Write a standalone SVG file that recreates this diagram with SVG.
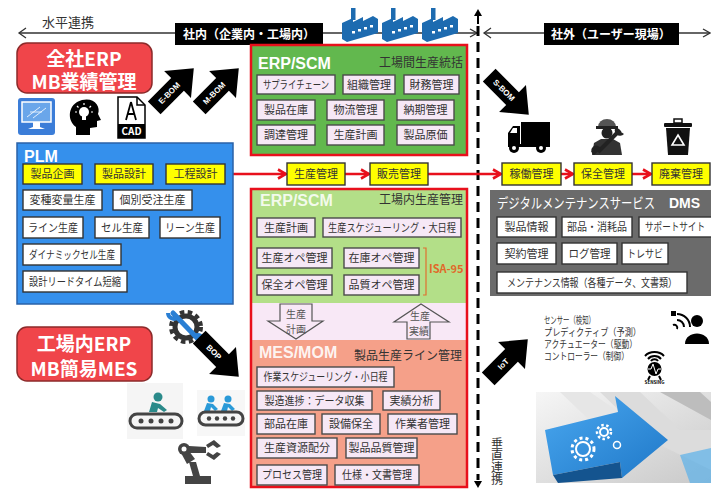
<svg xmlns="http://www.w3.org/2000/svg" width="711" height="490" viewBox="0 0 711 490">
<defs>
<style>
text{font-family:"Noto Sans CJK JP","Noto Sans",sans-serif;}
.t{font-size:11px;fill:#333;text-anchor:middle;}
.c{fill:#f6e8f6;stroke:#4a4a4a;stroke-width:1.4;}
.w{fill:#fff;stroke:#333;stroke-width:1.4;}
.y{fill:#ffff00;stroke:#333;stroke-width:1.4;}
.h{font-family:"Liberation Sans",Arial,sans-serif;font-weight:bold;font-size:16px;fill:#fff;}
.sub{font-size:12px;fill:#333;text-anchor:end;}
.flow{stroke:#e8101c;stroke-width:2.5;fill:none;marker-end:url(#ra);}
.bt{font-family:"Liberation Sans",Arial,sans-serif;font-weight:bold;font-size:8px;fill:#fff;text-anchor:middle;}
.lbl{font-size:12px;font-weight:bold;fill:#fff;text-anchor:middle;}
.rb{fill:#f0454a;stroke:#8c2a2a;stroke-width:1.5;}
.rbt{font-size:19px;font-weight:bold;fill:#fff;text-anchor:middle;}
.sn{font-size:10px;fill:#333;}
.line{stroke:#333;stroke-width:1.3;fill:none;}
</style>
<marker id="ra" viewBox="0 0 12 12" markerWidth="12" markerHeight="12" markerUnits="userSpaceOnUse" refX="10" refY="6" orient="auto">
<path d="M2,1.5 L10,6 L2,10.5" fill="none" stroke="#e8101c" stroke-width="2.6"/>
</marker>
<marker id="ch" viewBox="0 0 10 10" markerWidth="10" markerHeight="10" markerUnits="userSpaceOnUse" refX="9" refY="5" orient="auto">
<path d="M2,1 L9,5 L2,9" fill="none" stroke="#333" stroke-width="1.3"/>
</marker>
<path id="blk" d="M-28,-9 L5,-9 L5,-19 L28,0 L5,19 L5,9 L-28,9 Z" fill="#000"/>
<g id="factory" fill="#1d6bb0">
<rect x="9" y="0" width="4.5" height="12"/>
<path d="M0,15 L11,10 L11,14 L21,9 L21,13 L31,8 L36,11 L36,25 L5,34 L0,31 Z"/>
<g fill="#fff"><rect x="10" y="23" width="3" height="2.5"/><rect x="16" y="21" width="3" height="2.5"/><rect x="22" y="19" width="3" height="2.5"/><rect x="28" y="17" width="3" height="2.5"/></g>
</g>
<linearGradient id="bg" x1="0" y1="0" x2="1" y2="1"><stop offset="0" stop-color="#f6f6f6"/><stop offset="1" stop-color="#c9c9c9"/></linearGradient>
<linearGradient id="bl" x1="0" y1="0" x2="1" y2="1"><stop offset="0" stop-color="#4aa8f0"/><stop offset="1" stop-color="#1f78c8"/></linearGradient>
</defs>

<rect width="711" height="490" fill="#fff"/>

<!-- connectors: cooperation axes and flows -->
<g id="connectors">
<line x1="19" y1="33" x2="477" y2="33" class="line" marker-end="url(#ch)"/>
<path d="M26,28 L19,33 L26,38" class="line"/>
<line x1="484" y1="33" x2="710" y2="33" class="line" marker-end="url(#ch)"/>
<path d="M491,28 L484,33 L491,38" class="line"/>
<line x1="478" y1="26" x2="478" y2="480" stroke="#000" stroke-width="3" stroke-dasharray="10,6"/>
<path d="M478,24 L478,12" stroke="#000" stroke-width="2"/>
<path d="M474,16 L478,9 L482,16 Z" fill="#000"/>
<path d="M474,481 L478,488 L482,481 Z" fill="#000"/>
<line x1="82" y1="174" x2="94" y2="174" class="flow"/>
<line x1="153" y1="174" x2="165" y2="174" class="flow"/>
<line x1="225" y1="174" x2="286" y2="174" class="flow"/>
<line x1="345" y1="174" x2="369" y2="174" class="flow"/>
<line x1="428" y1="174" x2="501" y2="174" class="flow"/>
<line x1="561" y1="174" x2="573" y2="174" class="flow"/>
<line x1="632" y1="174" x2="651" y2="174" class="flow"/>
<line x1="372" y1="400" x2="383" y2="400" stroke="#fff" stroke-width="1.5"/>
</g>

<text x="42" y="27" font-size="13" fill="#333">水平連携</text>
<g id="label-inside"><rect x="175" y="23" width="148" height="22" fill="#000"/><text class="lbl" x="249" y="39">社内（企業内・工場内）</text></g>
<g id="label-outside"><rect x="544" y="23" width="135" height="22" fill="#000"/><text class="lbl" x="611" y="39">社外（ユーザー現場）</text></g>
<g id="factories">
<use href="#factory" x="342" y="8"/>
<use href="#factory" x="382" y="8"/>
<use href="#factory" x="422" y="8"/>
</g>
<g id="vertical-label"><text x="497" y="437" font-size="12" fill="#333" writing-mode="vertical-rl">垂直連携</text></g>

<!-- company ERP -->
<g id="company-erp">
<rect class="rb" x="17" y="43" width="135" height="50" rx="10"/>
<text class="rbt" x="84" y="66">全社ERP</text>
<text class="rbt" x="84" y="89">MB業績管理</text>
</g>

<!-- design icons -->
<g id="icon-monitor">
<rect x="18" y="98" width="37" height="37" rx="3" fill="#3b7dd8"/>
<rect x="22" y="102" width="29" height="20" fill="#6aa6ea" stroke="#fff" stroke-width="1.5"/>
<path d="M27,117 L40,107 M33,118 L46,108 M30,112 L42,112" stroke="#fff" stroke-width="0.8"/>
<path d="M33,122 L40,122 L40,127 L45,129 L28,129 L33,127 Z" fill="#fff"/>
</g>
<g id="icon-head">
<path d="M76,135 L76,127 C67,121 67,104 82,100 C94,97 101,106 98,114 L101,120 L97,121 L97,127 L90,128 L90,135 Z" fill="#000"/>
<circle cx="84" cy="112" r="5" fill="#fff"/>
<rect x="82" y="116" width="4" height="4" fill="#fff"/>
<path d="M84,103 L84,105 M77,106 L78.5,107.5 M91,106 L89.5,107.5 M75,112 L77,112 M93,112 L91,112" stroke="#fff" stroke-width="1.2"/>
</g>
<g id="icon-cad">
<path d="M118,97 L137,97 L145,105 L145,138 L118,138 Z" fill="#fff" stroke="#000" stroke-width="1.5"/>
<path d="M137,97 L137,105 L145,105" fill="none" stroke="#000" stroke-width="1.5"/>
<path d="M131,102 L126,120 M131,102 L136,120 M127,114 L135,114" stroke="#000" stroke-width="1.8" fill="none"/>
<rect x="118" y="124" width="27" height="14" fill="#000"/>
<text x="131.5" y="135" font-family="Liberation Sans,Arial,sans-serif" font-weight="bold" font-size="10" fill="#fff" text-anchor="middle">CAD</text>
</g>

<g id="arrow-ebom" transform="translate(174,88) rotate(-45)"><use href="#blk"/><text class="bt" x="-7" y="3">E-BOM</text></g>
<g id="arrow-mbom" transform="translate(219,88) rotate(-45)"><use href="#blk"/><text class="bt" x="-7" y="3">M-BOM</text></g>

<!-- ERP / SCM inter-factory -->
<g id="erp-scm-top">
<rect x="251" y="45" width="216" height="110" fill="#62b84e" stroke="#e8101c" stroke-width="2.5"/>
<text class="h" x="258" y="69">ERP/SCM</text>
<text class="sub" x="463" y="67">工場間生産統括</text>
</g>
<g id="n-supply"><rect class="c" x="257" y="75" width="78" height="19"/><text class="t" x="296" y="89" textLength="66" lengthAdjust="spacingAndGlyphs">サプライチェーン</text></g>
<g id="n-org"><rect class="c" x="343" y="75" width="52" height="19"/><text class="t" x="369" y="89">組織管理</text></g>
<g id="n-fin"><rect class="c" x="404" y="75" width="55" height="19"/><text class="t" x="431.5" y="89">財務管理</text></g>
<g id="n-stock"><rect class="c" x="257" y="100" width="58" height="20"/><text class="t" x="286" y="114">製品在庫</text></g>
<g id="n-logi"><rect class="c" x="327" y="100" width="57" height="20"/><text class="t" x="355.5" y="114">物流管理</text></g>
<g id="n-due"><rect class="c" x="397" y="100" width="57" height="20"/><text class="t" x="425.5" y="114">納期管理</text></g>
<g id="n-procure"><rect class="c" x="257" y="125" width="58" height="20"/><text class="t" x="286" y="139">調達管理</text></g>
<g id="n-plan"><rect class="c" x="327" y="125" width="57" height="20"/><text class="t" x="355.5" y="139">生産計画</text></g>
<g id="n-cost"><rect class="c" x="397" y="125" width="57" height="20"/><text class="t" x="425.5" y="139">製品原価</text></g>

<!-- PLM -->
<g id="plm">
<rect x="17" y="143" width="216" height="161" fill="#3590ec" stroke="#2a62a8" stroke-width="1.5"/>
<text class="h" x="24" y="162">PLM</text>
</g>
<g id="y-plan"><rect class="y" x="23" y="164" width="59" height="20"/><text class="t" x="52.5" y="178">製品企画</text></g>
<g id="y-design"><rect class="y" x="95" y="164" width="58" height="20"/><text class="t" x="124" y="178">製品設計</text></g>
<g id="y-process"><rect class="y" x="166" y="164" width="59" height="20"/><text class="t" x="195.5" y="178">工程設計</text></g>
<g id="p1"><rect class="w" x="23" y="190" width="79" height="20"/><text class="t" x="62.5" y="204">変種変量生産</text></g>
<g id="p2"><rect class="w" x="113" y="190" width="79" height="20"/><text class="t" x="152.5" y="204">個別受注生産</text></g>
<g id="p3"><rect class="w" x="23" y="217" width="60" height="21"/><text class="t" x="53" y="232" textLength="50" lengthAdjust="spacingAndGlyphs">ライン生産</text></g>
<g id="p4"><rect class="w" x="95" y="217" width="54" height="21"/><text class="t" x="122" y="232" textLength="42" lengthAdjust="spacingAndGlyphs">セル生産</text></g>
<g id="p5"><rect class="w" x="160" y="217" width="60" height="21"/><text class="t" x="190" y="232" textLength="50" lengthAdjust="spacingAndGlyphs">リーン生産</text></g>
<g id="p6"><rect class="w" x="23" y="244" width="98" height="21"/><text class="t" x="72" y="259" textLength="86" lengthAdjust="spacingAndGlyphs">ダイナミックセル生産</text></g>
<g id="p7"><rect class="w" x="23" y="271" width="104" height="21"/><text class="t" x="75" y="286" textLength="92" lengthAdjust="spacingAndGlyphs">設計リードタイム短縮</text></g>

<!-- flow steps -->
<g id="y-prod"><rect class="y" x="287" y="163" width="58" height="22"/><text class="t" x="316" y="178">生産管理</text></g>
<g id="y-sales"><rect class="y" x="370" y="163" width="58" height="22"/><text class="t" x="399" y="178">販売管理</text></g>
<g id="y-oper"><rect class="y" x="502" y="163" width="59" height="22"/><text class="t" x="531.5" y="178">稼働管理</text></g>
<g id="y-maint"><rect class="y" x="574" y="163" width="58" height="22"/><text class="t" x="603" y="178">保全管理</text></g>
<g id="y-disp"><rect class="y" x="652" y="163" width="58" height="22"/><text class="t" x="681" y="178">廃棄管理</text></g>

<!-- factory ERP / MES -->
<g id="erp-scm-factory">
<rect x="251" y="189" width="216" height="298" fill="#f8e8f6"/>
<rect x="251" y="189" width="216" height="114" fill="#b3df88"/>
<rect x="251" y="340" width="216" height="147" fill="#f5a089"/>
<rect x="251" y="189" width="216" height="298" fill="none" stroke="#e8101c" stroke-width="2.5"/>
<text class="h" x="260" y="206" fill-opacity="0.85">ERP/SCM</text>
<text class="sub" x="463" y="204">工場内生産管理</text>
</g>
<g id="f1"><rect class="c" x="257" y="218" width="58" height="19"/><text class="t" x="286" y="232">生産計画</text></g>
<g id="f2"><rect class="c" x="323" y="218" width="138" height="19"/><text class="t" x="392" y="232" textLength="128" lengthAdjust="spacingAndGlyphs">生産スケジューリング・大日程</text></g>
<g id="f3"><rect class="c" x="257" y="248" width="75" height="20"/><text class="t" x="294.5" y="262">生産オペ管理</text></g>
<g id="f4"><rect class="c" x="344" y="248" width="75" height="20"/><text class="t" x="381.5" y="262">在庫オペ管理</text></g>
<g id="f5"><rect class="c" x="257" y="275" width="75" height="20"/><text class="t" x="294.5" y="289">保全オペ管理</text></g>
<g id="f6"><rect class="c" x="344" y="275" width="75" height="20"/><text class="t" x="381.5" y="289">品質オペ管理</text></g>
<g id="isa95">
<path d="M423,248 L426,248 L426,295 L423,295" fill="none" stroke="#e07030" stroke-width="1.2"/>
<text x="429" y="273" font-family="Liberation Mono,monospace" font-weight="bold" font-size="11" fill="#e06a2a">ISA-95</text>
</g>
<g id="arrow-plan">
<path d="M280,304 L312,304 L312,321 L323,321 L296,339 L268,321 L280,321 Z" fill="#f8e8f6" stroke="#555" stroke-width="1.2"/>
<text x="296" y="318" font-size="10" fill="#555" text-anchor="middle">生産</text>
<text x="296" y="333" font-size="10" fill="#555" text-anchor="middle">計画</text>
</g>
<g id="arrow-result">
<path d="M421,304 L449,322 L430,322 L430,339 L407,339 L407,322 L394,322 Z" fill="#f8e8f6" stroke="#555" stroke-width="1.2"/>
<text x="420" y="320" font-size="10" fill="#555" text-anchor="middle">生産</text>
<text x="419" y="335" font-size="10" fill="#555" text-anchor="middle">実績</text>
</g>
<g id="mes-title">
<text class="h" x="259" y="358" fill-opacity="0.9">MES/MOM</text>
<text class="sub" x="462" y="360">製品生産ライン管理</text>
</g>
<g id="m1"><rect class="c" x="257" y="367" width="137" height="20"/><text class="t" x="325.5" y="381" textLength="124" lengthAdjust="spacingAndGlyphs">作業スケジューリング・小日程</text></g>
<g id="m2"><rect class="c" x="257" y="391" width="115" height="19"/><text class="t" x="314.5" y="405" textLength="100" lengthAdjust="spacingAndGlyphs">製造進捗：データ収集</text></g>
<g id="m3"><rect class="c" x="383" y="391" width="57" height="19"/><text class="t" x="411.5" y="405">実績分析</text></g>
<g id="m4"><rect class="c" x="257" y="414" width="58" height="20"/><text class="t" x="286" y="428">部品在庫</text></g>
<g id="m5"><rect class="c" x="322" y="414" width="58" height="20"/><text class="t" x="351" y="428">設備保全</text></g>
<g id="m6"><rect class="c" x="388" y="414" width="69" height="20"/><text class="t" x="422.5" y="428">作業者管理</text></g>
<g id="m7"><rect class="c" x="257" y="438" width="80" height="20"/><text class="t" x="297" y="452">生産資源配分</text></g>
<g id="m8"><rect class="c" x="346" y="438" width="71" height="20"/><text class="t" x="381.5" y="452">製品品質管理</text></g>
<g id="m9"><rect class="c" x="257" y="465" width="70" height="20"/><text class="t" x="292" y="479" textLength="60" lengthAdjust="spacingAndGlyphs">プロセス管理</text></g>
<g id="m10"><rect class="c" x="335" y="465" width="84" height="20"/><text class="t" x="377" y="479" textLength="70" lengthAdjust="spacingAndGlyphs">仕様・文書管理</text></g>

<!-- factory ERP label and shop-floor icons -->
<g id="factory-erp">
<rect class="rb" x="17" y="327" width="135" height="54" rx="10"/>
<text class="rbt" x="84" y="351">工場内ERP</text>
<text class="rbt" x="84" y="376">MB簡易MES</text>
</g>
<g id="icon-gear">
<circle cx="186" cy="327" r="11" fill="none" stroke="#333" stroke-width="5"/>
<circle cx="186" cy="327" r="15" fill="none" stroke="#333" stroke-width="4" stroke-dasharray="4.5,3.5"/>
<path d="M173,313 L199,340" stroke="#2a7fd4" stroke-width="5" stroke-linecap="round"/>
<path d="M168,313 A6,6 0 0 0 177,318 M195,336 A6,6 0 0 1 204,341" stroke="#2a7fd4" stroke-width="4" fill="none"/>
</g>
<g id="arrow-bop" transform="translate(219,357) rotate(45)"><use href="#blk"/><text class="bt" x="-7" y="3">BOP</text></g>
<g id="icon-conveyor1">
<rect x="127" y="383" width="56" height="56" fill="#f5f5f5"/>
<circle cx="158" cy="397" r="4.5" fill="#2a8a8a"/>
<path d="M149,412 L152,402 L160,404 L167,410 L164,412 L158,408 L157,412 Z" fill="#2a8a8a"/>
<rect x="130" y="414" width="52" height="14" rx="7" fill="none" stroke="#444" stroke-width="3"/>
<g fill="#444"><circle cx="141" cy="421" r="2.5"/><circle cx="151" cy="421" r="2.5"/><circle cx="161" cy="421" r="2.5"/><circle cx="171" cy="421" r="2.5"/></g>
</g>
<g id="icon-conveyor2">
<rect x="197" y="390" width="48" height="46" fill="#f7f7f7"/>
<g fill="#2a9ad8"><circle cx="211" cy="399" r="3.5"/><path d="M204,411 L207,403 L213,404 L218,409 L215,411 L211,407 L210,411 Z"/><circle cx="228" cy="399" r="3.5"/><path d="M221,411 L224,403 L230,404 L235,409 L232,411 L228,407 L227,411 Z"/></g>
<rect x="199" y="412" width="44" height="13" rx="6.5" fill="none" stroke="#444" stroke-width="3"/>
<g fill="#444"><circle cx="209" cy="418.5" r="2.2"/><circle cx="217" cy="418.5" r="2.2"/><circle cx="225" cy="418.5" r="2.2"/><circle cx="233" cy="418.5" r="2.2"/></g>
</g>
<g id="icon-robot" fill="#444">
<rect x="185" y="476" width="26" height="8"/>
<path d="M193,476 L200,476 L196,462 L189,462 Z"/>
<path d="M187,464 L195,459 L186,447 L180,451 Z"/>
<circle cx="184" cy="449" r="6" fill="#444"/>
<circle cx="184" cy="449" r="2.5" fill="#fff"/>
<path d="M189,446 L206,447 L206,453 L189,453 Z"/>
<path d="M206,445 L214,440 L221,446 L217,448 L213,445 L208,448 Z M206,455 L214,460 L221,454 L217,452 L213,455 L208,452 Z"/>
</g>

<!-- outside: service side -->
<g id="arrow-sbom" transform="translate(509,95) rotate(45)"><use href="#blk"/><text class="bt" x="-7" y="3">S-BOM</text></g>
<g id="icon-truck" fill="#000">
<rect x="521" y="122" width="29" height="22"/>
<path d="M508,144 L508,133 L513,126 L520,126 L520,144 Z"/>
<path d="M510,133 L513,128 L517,128 L517,133 Z" fill="#fff"/>
<rect x="508" y="144" width="42" height="3"/>
<circle cx="514" cy="148" r="5"/><circle cx="514" cy="148" r="2" fill="#fff"/>
<circle cx="541" cy="148" r="5"/><circle cx="541" cy="148" r="2" fill="#fff"/>
</g>
<g id="icon-worker">
<path d="M598,127 A9,8 0 0 1 616,127 Z" fill="#555"/>
<rect x="596" y="126" width="22" height="3" fill="#222"/>
<circle cx="607" cy="133" r="5.5" fill="#222"/>
<path d="M592,155 L594,143 L601,139 L613,139 L620,143 L622,155 Z" fill="#333"/>
<path d="M598,152 L620,130" stroke="#222" stroke-width="4"/>
<path d="M616,127 A5,5 0 1 0 624,134 L621,132 L619,130 Z" fill="#222"/>
<path d="M594,155 A5,5 0 1 1 601,149 Z" fill="#222"/>
</g>
<g id="icon-bin">
<rect x="664" y="123" width="28" height="4" rx="1" fill="#111"/>
<rect x="674" y="119" width="8" height="4" fill="none" stroke="#111" stroke-width="1.5"/>
<path d="M666,128 L690,128 L688,155 L668,155 Z" fill="#111"/>
<path d="M678,135 L684,145 L672,145 Z" fill="none" stroke="#fff" stroke-width="1.6"/>
</g>

<g id="dms">
<rect x="490" y="190" width="222" height="106" fill="#6b6b6b"/>
<text x="497" y="208" font-size="14" fill="#fff"><tspan textLength="158" lengthAdjust="spacingAndGlyphs">デジタルメンテナンスサービス</tspan><tspan x="669" font-family="Liberation Sans,Arial,sans-serif" font-weight="bold">DMS</tspan></text>
</g>
<g id="d1"><rect class="w" x="497" y="217" width="59" height="20"/><text class="t" x="526.5" y="231">製品情報</text></g>
<g id="d2"><rect class="w" x="562" y="217" width="70" height="20"/><text class="t" x="597" y="231" textLength="60" lengthAdjust="spacingAndGlyphs">部品・消耗品</text></g>
<g id="d3"><rect class="w" x="639" y="217" width="80" height="20"/><text class="t" x="675" y="231" textLength="60" lengthAdjust="spacingAndGlyphs">サポートサイト</text></g>
<g id="d4"><rect class="w" x="497" y="243" width="59" height="21"/><text class="t" x="526.5" y="258">契約管理</text></g>
<g id="d5"><rect class="w" x="562" y="243" width="55" height="21"/><text class="t" x="589.5" y="258" textLength="42" lengthAdjust="spacingAndGlyphs">ログ管理</text></g>
<g id="d6"><rect class="w" x="622" y="243" width="46" height="21"/><text class="t" x="645" y="258" textLength="36" lengthAdjust="spacingAndGlyphs">トレサビ</text></g>
<g id="d7"><rect class="w" x="497" y="272" width="190" height="21"/><text class="t" x="592" y="287" font-size="10.5" textLength="170" lengthAdjust="spacingAndGlyphs">メンテナンス情報（各種データ、文書類）</text></g>

<g id="arrow-iot" transform="translate(508,359) rotate(-45)"><use href="#blk"/><text class="bt" x="-7" y="3">IoT</text></g>
<g id="iot-list">
<text class="sn" x="544" y="324" textLength="51" lengthAdjust="spacingAndGlyphs">センサー（検知）</text>
<text class="sn" x="544" y="336" textLength="97" lengthAdjust="spacingAndGlyphs">プレディクティブ（予測）</text>
<text class="sn" x="544" y="348" textLength="93" lengthAdjust="spacingAndGlyphs">アクチュエーター（駆動）</text>
<text class="sn" x="544" y="360" textLength="85" lengthAdjust="spacingAndGlyphs">コントローラー（制御）</text>
</g>
<g id="icon-signal">
<circle cx="697" cy="321" r="6" fill="#000"/>
<path d="M685,344 C685,330 709,330 709,344 Z" fill="#000"/>
<rect x="671" y="311" width="5" height="5" fill="#000"/>
<path d="M677,320 A7,7 0 0 1 684,327 M677,314 A13,13 0 0 1 690,327 M673,325 A3,3 0 0 1 677,329" fill="none" stroke="#000" stroke-width="2"/>
</g>
<g id="icon-sensing">
<path d="M645,356 A12,10 0 0 1 664,356 M648,359 A8,7 0 0 1 661,359 M651,361 A4,3.5 0 0 1 658,361" fill="none" stroke="#000" stroke-width="2"/>
<circle cx="654.5" cy="369" r="7" fill="#000"/>
<path d="M648,369 L651,369 L653,364 L656,374 L658,369 L661,369" fill="none" stroke="#fff" stroke-width="1"/>
<path d="M650,376 L648,380 M659,376 L661,380" stroke="#000" stroke-width="2"/>
<text x="654.5" y="384" font-family="Liberation Serif,serif" font-weight="bold" font-size="4.5" fill="#000" text-anchor="middle">SENSING</text>
</g>

<g id="visual-arrows">
<rect x="536" y="392" width="175" height="91" fill="url(#bg)"/>
<path d="M600,392 L640,392 L680,430 L711,430 L711,470 L650,440 Z" fill="#dcdcdc"/>
<path d="M560,392 L590,392 L630,420 L600,430 Z" fill="#e6e6e6"/>
<path d="M660,392 L700,392 L711,402 L711,420 Z" fill="#bdbdbd"/>
<path d="M545,430 L618,412 L615,396 L668,440 L622,478 L620,462 L553,475 Z" fill="url(#bl)"/>
<path d="M553,475 L620,462 L622,478 L558,483 Z" fill="#14548f"/>
<path d="M680,455 L711,448 L711,483 L690,483 Z" fill="#5ab0ea" opacity="0.7"/>
<g fill="none" stroke="#fff" stroke-width="2">
<circle cx="583" cy="449" r="7"/>
<circle cx="583" cy="449" r="11" stroke-width="3" stroke-dasharray="3,3"/>
<circle cx="604" cy="432" r="4"/>
<circle cx="604" cy="432" r="7" stroke-width="2.5" stroke-dasharray="2.5,2.5"/>
<circle cx="617" cy="445" r="3.5" stroke-width="1.5"/>
</g>
</g>
</svg>
